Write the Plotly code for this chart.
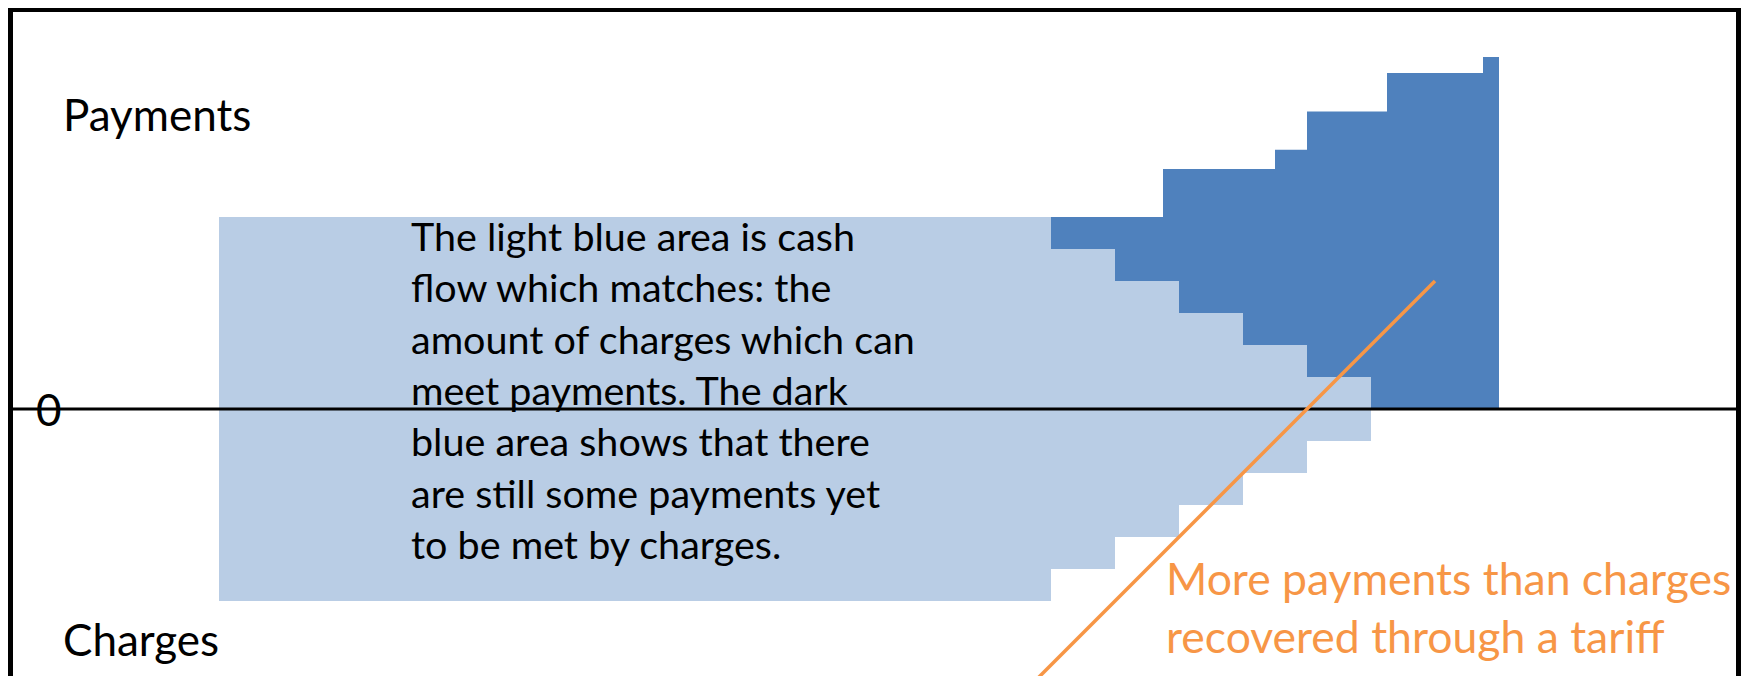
import plotly.graph_objects as go

# ---- data (conceptual cash-flow profile, arbitrary units) ----
# step starts (time) and values: charges recovered through a tariff
charge_steps_t = [0, 52, 56, 60, 64, 68, 72]
charges = [12, 10, 8, 6, 4, 2, 0]
# step starts (time) and values: payments to be made
payment_steps_t = [0, 59, 66, 68, 73, 79, 80]
payments = [12, 15, 16.2, 18.6, 21, 22, 0]
# callout line (time, value) end points
callout_t = [76, 50]
callout_v = [8, -18]

body_lines = [
    "The light blue area is cash",
    "flow which matches: the",
    "amount of charges which can",
    "meet payments. The dark",
    "blue area shows that there",
    "are still some payments yet",
    "to be met by charges.",
]
callout_lines = ["More payments than charges", "recovered through a tariff"]

DARK = "#4F81BD"
LIGHT = "#B9CDE5"
ORANGE = "#F79646"
FONT = "Lato"

W, H = 1750, 676
ML, MR, MT, MB = 5, 22, 4, 0
OFF = 8  # page body margin
PX0, PY0, S = 219.0, 409.0, 16.0  # page pixel of t=0 / v=0, px per unit


def px_x(p):
    return (p - PX0) / S


def px_y(p):
    return (PY0 - p) / S


matched = [min(c, c) for c in charges]

fig = go.Figure()
fig.add_trace(go.Scatter(
    x=payment_steps_t, y=payments, mode="lines",
    line=dict(width=0, shape="hv", color=DARK),
    fill="tozeroy", fillcolor=DARK, hoverinfo="skip", showlegend=False))
fig.add_trace(go.Scatter(
    x=charge_steps_t, y=matched, mode="lines",
    line=dict(width=0, shape="hv", color=LIGHT),
    fill="tozeroy", fillcolor=LIGHT, hoverinfo="skip", showlegend=False))
fig.add_trace(go.Scatter(
    x=charge_steps_t, y=[-c for c in charges], mode="lines",
    line=dict(width=0, shape="hv", color=LIGHT),
    fill="tozeroy", fillcolor=LIGHT, hoverinfo="skip", showlegend=False))

# zero line above the areas
fig.add_shape(type="line", xref="paper", x0=0, x1=1, yref="y", y0=0, y1=0,
              line=dict(color="black", width=3), layer="above")
# orange callout line
fig.add_shape(type="line", xref="x", yref="y",
              x0=callout_t[0], y0=callout_v[0], x1=callout_t[1], y1=callout_v[1],
              line=dict(color=ORANGE, width=3.5), layer="above")

ann = dict(showarrow=False, xanchor="left", yanchor="middle", align="left",
           borderpad=0, borderwidth=0, xref="x", yref="y")
fig.add_annotation(text="<br>".join(body_lines), x=px_x(411), y=px_y(389.5),
                   font=dict(family=FONT, size=39.5, color="black"), **ann)
fig.add_annotation(text="Payments", x=px_x(63), y=px_y(114),
                   font=dict(family=FONT, size=44, color="black"), **ann)
fig.add_annotation(text="Charges", x=px_x(63), y=px_y(639),
                   font=dict(family=FONT, size=44, color="black"), **ann)
fig.add_annotation(text="0", x=px_x(48.5), y=0, xanchor="center", yanchor="middle",
                   showarrow=False, borderpad=0, borderwidth=0, xref="x", yref="y",
                   font=dict(family=FONT, size=44, color="black"))
fig.add_annotation(text="<br>".join(callout_lines), x=px_x(1166), y=px_y(606),
                   font=dict(family=FONT, size=44.5, color=ORANGE), **ann)

fig.update_layout(
    width=W, height=H,
    margin=dict(l=ML, r=MR, t=MT, b=MB, autoexpand=False),
    paper_bgcolor="white", plot_bgcolor="white",
    xaxis=dict(range=[px_x(ML + OFF), px_x(W - MR + OFF)], side="top", showline=True,
               linecolor="black", linewidth=5, mirror=False, showgrid=False,
               zeroline=False, showticklabels=False, ticks="", fixedrange=True),
    yaxis=dict(range=[px_y(H - MB + OFF), px_y(MT + OFF)], showline=True,
               linecolor="black", linewidth=5, mirror=True, showgrid=False,
               zeroline=False, showticklabels=False, ticks="", fixedrange=True),
)

fig.write_html("out.html", config={"displayModeBar": False})
